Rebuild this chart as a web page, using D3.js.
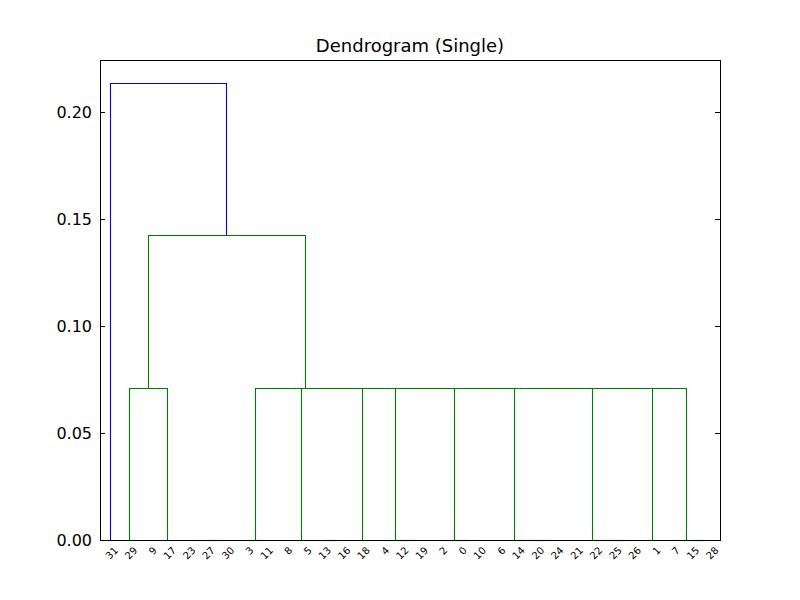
<!DOCTYPE html>
<html><head><meta charset="utf-8">
<script src="https://cdn.jsdelivr.net/npm/d3@7"></script>
<style>body{margin:0;background:#fff}</style></head>
<body><svg id="c" width="800" height="600"></svg>
<script>
// linkage heights
const H_TOP = 0.2136, H_MID = 0.1425, H_LOW = 0.0710, Z = 0;
const leafOrder = [31,29,9,17,23,27,30,3,11,8,5,13,16,18,4,12,19,2,0,10,6,14,20,24,21,22,25,26,1,7,15,28];
const yTicks = [0, 0.05, 0.10, 0.15, 0.20];
const colorThreshold = 0.1495;
function N(h,a,b){return {h:h,c:[a,b]};}
// cluster tree (leaf ids)
const G1 = N(Z,3,11);
const G2 = N(Z,8,N(Z,5,N(Z,13,16)));
const G3 = 18;
const G4 = N(Z,4,N(Z,12,19));
const G5 = N(Z,2,N(Z,0,10));
const G6 = N(Z,6,N(Z,14,N(Z,20,24)));
const G7 = N(Z,21,N(Z,22,N(Z,25,26)));
const G8 = 1;
const G9 = N(Z,7,N(Z,15,28));
const right = N(H_LOW,G1,N(H_LOW,G2,N(H_LOW,G3,N(H_LOW,G4,N(H_LOW,G5,N(H_LOW,G6,N(H_LOW,G7,N(H_LOW,G8,G9))))))));
const left = N(H_LOW,29,N(Z,9,N(Z,17,N(Z,23,N(Z,27,30)))));
const tree = N(H_TOP,31,N(H_MID,left,right));

const svg=d3.select("#c");
const L=100,R=720,T=60,B=540;
const x=d3.scaleLinear().domain([0,leafOrder.length*10]).range([L,R]);
const y=d3.scaleLinear().domain([0,H_TOP*1.05]).range([B,T]);
const pos={}; leafOrder.forEach((id,i)=>pos[id]=5+10*i);
const links=[];
function walk(n){
  if(typeof n==="number") return {x:pos[n],h:0};
  const a=walk(n.c[0]), b=walk(n.c[1]);
  links.push({a,b,h:n.h});
  return {x:(a.x+b.x)/2,h:n.h};
}
walk(tree);
const g=svg.append("g");
const px=v=>Math.round(x(v))+0.5, py=v=>Math.round(y(v))+0.5;
links.forEach(l=>{
  g.append("path").attr("fill","none")
   .attr("stroke", l.h>colorThreshold?"#0000ff":"#008000").attr("stroke-width",1.1)
   .attr("d",d3.line()([[px(l.a.x),py(l.a.h)],[px(l.a.x),py(l.h)],[px(l.b.x),py(l.h)],[px(l.b.x),py(l.b.h)]]));
});
// frame
svg.append("rect").attr("x",L+0.5).attr("y",T+0.5).attr("width",R-L).attr("height",B-T).attr("fill","none").attr("stroke","#000");
// y ticks
yTicks.forEach(t=>{
  const yy=py(t);
  svg.append("line").attr("x1",L).attr("x2",L+5).attr("y1",yy).attr("y2",yy).attr("stroke","#000");
  svg.append("line").attr("x1",R).attr("x2",R-5).attr("y1",yy).attr("y2",yy).attr("stroke","#000");
  svg.append("text").attr("x",L-8).attr("y",y(t)).attr("dy","0.35em").attr("text-anchor","end")
    .attr("font-family","DejaVu Sans").attr("font-size",16).text(d3.format(".2f")(t));
});
// x labels
leafOrder.forEach((id,i)=>{
  const xx=x(5+10*i);
  svg.append("text").attr("transform",`translate(${xx+4},${B+6}) rotate(-45)`).attr("text-anchor","end")
    .attr("dy","0.7em").attr("font-family","DejaVu Sans").attr("font-size",10).text(id);
});
svg.append("text").attr("x",(L+R)/2).attr("y",T-8).attr("text-anchor","middle")
  .attr("font-family","DejaVu Sans").attr("font-size",18).text("Dendrogram (Single)");
</script></body></html>
